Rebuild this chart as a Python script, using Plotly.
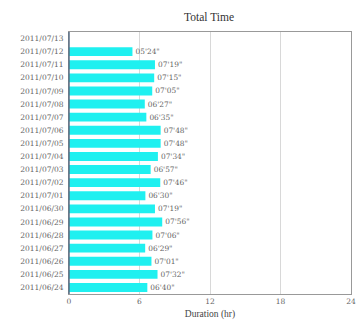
import plotly.graph_objects as go

dates = ['2011/07/13', '2011/07/12', '2011/07/11', '2011/07/10', '2011/07/09',
         '2011/07/08', '2011/07/07', '2011/07/06', '2011/07/05', '2011/07/04',
         '2011/07/03', '2011/07/02', '2011/07/01', '2011/06/30', '2011/06/29',
         '2011/06/28', '2011/06/27', '2011/06/26', '2011/06/25', '2011/06/24']
hours = [None, 5, 7, 7, 7, 6, 6, 7, 7, 7, 6, 7, 6, 7, 7, 7, 6, 7, 7, 6]
minutes = [None, 24, 19, 15, 5, 27, 35, 48, 48, 34, 57, 46, 30, 19, 56, 6, 29, 1, 32, 40]

durations = [h + m / 60 if h is not None else None for h, m in zip(hours, minutes)]
labels = ['%02d\'%02d"' % (h, m) if h is not None else '' for h, m in zip(hours, minutes)]

serif = 'Liberation Serif'
small = 'DejaVu Serif'

fig = go.Figure(go.Bar(
    x=durations, y=dates, orientation='h',
    marker=dict(color='#1ff0f0', line=dict(width=0)),
    text=labels, textposition='outside', cliponaxis=False,
    textfont=dict(family=small, size=7.5, color='#666')))

fig.update_layout(
    width=364, height=322,
    margin=dict(l=59, r=21, t=24, b=29),
    paper_bgcolor='white', plot_bgcolor='white',
    bargap=0.32, showlegend=False,
    title=dict(text='Total Time', x=(59 + 343) / 2 / 364, xanchor='center',
               y=1 - 9 / 322, yanchor='middle',
               font=dict(family=serif, size=11.5, color='#333')),
    font=dict(family=small, size=7.5, color='#666'),
    xaxis=dict(range=[0, 24], tickvals=[0, 6, 12, 18, 24], showgrid=True,
               gridcolor='#d8d8d8', gridwidth=1, zeroline=False,
               showline=True, linecolor='#999', linewidth=1, mirror=True,
               ticks='', ticklen=0, tickfont=dict(family=small, size=7.5, color='#666'),
               title=dict(text='Duration (hr)', standoff=5,
                          font=dict(family=serif, size=9.5, color='#444'))),
    yaxis=dict(categoryorder='array', categoryarray=dates, autorange='reversed',
               showgrid=False, zeroline=False, showline=True,
               linecolor='#999', linewidth=1, mirror=True, ticks='',
               ticklabelstandoff=3),
    shapes=[
        dict(type='line', xref='paper', yref='paper', x0=0, x1=0, y0=0, y1=1,
             line=dict(color='#5a6f86', width=1.5)),
    ],
    annotations=[
        dict(text=' ', showarrow=False, xref='paper', yref='paper',
             x=(357 - 59) / 284, xanchor='left', y=0.99, yanchor='top',
             width=10, height=258, bgcolor='#ececec', bordercolor='#cfcfcf',
             borderwidth=1, borderpad=0),
    ],
)

fig.write_html("out.html")
